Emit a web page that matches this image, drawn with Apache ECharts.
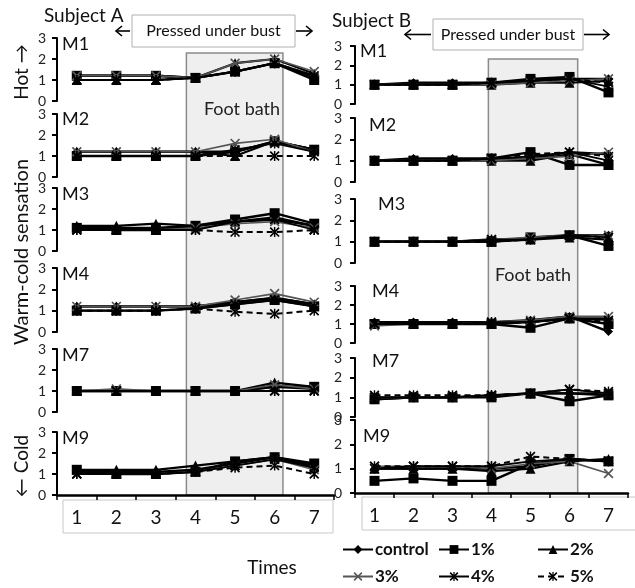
<!DOCTYPE html>
<html><head><meta charset="utf-8">
<script src="https://cdn.jsdelivr.net/npm/echarts@6/dist/echarts.min.js"></script>
<style>html,body{margin:0;padding:0;background:#fff}#c{width:635px;height:588px}</style>
</head><body><div id="c"></div>
<script>
// ---------- data ----------
const times = ['1','2','3','4','5','6','7'];
const seriesNames = ['control','1%','2%','3%','4%','5%'];
const panelNames = ['M1','M2','M3','M4','M7','M9'];
const subjectNames = ['Subject A','Subject B'];

// Subject A (rows: control, 1%, 2%, 3%, 4%, 5%)
const A_M1 = [
  [1.2,1.2,1.2,1.1,1.4,1.8,1.2],
  [1.2,1.2,1.2,1.1,1.4,1.8,1.0],
  [1.0,1.0,1.0,1.1,1.8,2.0,1.3],
  [1.2,1.2,1.2,1.1,1.8,2.0,1.4],
  [1.0,1.0,1.0,1.1,1.4,1.8,1.1],
  [1.0,1.0,1.0,1.1,1.4,1.8,1.2]];
const A_M2 = [
  [1.2,1.2,1.2,1.2,1.2,1.7,1.3],
  [1.0,1.0,1.0,1.0,1.2,1.7,1.3],
  [1.2,1.2,1.2,1.2,1.0,1.7,1.3],
  [1.2,1.2,1.2,1.2,1.6,1.8,1.2],
  [1.0,1.0,1.0,1.0,1.3,1.6,1.2],
  [1.0,1.0,1.0,1.0,1.0,1.0,1.0]];
const A_M3 = [
  [1.1,1.1,1.1,1.2,1.4,1.5,1.2],
  [1.1,1.0,1.0,1.2,1.5,1.8,1.3],
  [1.2,1.2,1.3,1.2,1.4,1.6,1.2],
  [1.0,1.0,1.0,1.1,1.3,1.4,1.1],
  [1.0,1.0,1.0,1.0,1.4,1.5,1.0],
  [1.0,1.0,1.0,1.0,0.9,0.9,1.0]];
const A_M4 = [
  [1.2,1.2,1.2,1.2,1.4,1.6,1.3],
  [1.0,1.0,1.0,1.1,1.3,1.5,1.2],
  [1.2,1.2,1.2,1.2,1.4,1.6,1.3],
  [1.2,1.2,1.2,1.2,1.5,1.8,1.4],
  [1.0,1.0,1.0,1.1,1.3,1.5,1.2],
  [1.0,1.0,1.0,1.1,0.95,0.85,1.0]];
const A_M7 = [
  [1.0,1.0,1.0,1.0,1.0,1.2,1.1],
  [1.0,1.0,1.0,1.0,1.0,1.2,1.2],
  [1.0,1.0,1.0,1.0,1.0,1.4,1.2],
  [1.0,1.1,1.0,1.0,1.0,1.3,1.1],
  [1.0,1.0,1.0,1.0,1.0,1.0,1.0],
  [1.0,1.0,1.0,1.0,1.0,1.0,1.0]];
const A_M9 = [
  [1.1,1.1,1.1,1.2,1.5,1.8,1.3],
  [1.2,1.0,1.0,1.1,1.6,1.8,1.5],
  [1.2,1.2,1.2,1.4,1.6,1.8,1.4],
  [1.0,1.0,1.0,1.1,1.4,1.7,1.2],
  [1.0,1.0,1.0,1.1,1.4,1.7,1.3],
  [1.0,1.0,1.0,1.1,1.3,1.4,1.0]];

// Subject B
const B_M1 = [
  [1.0,1.1,1.1,1.1,1.2,1.3,1.3],
  [1.0,1.0,1.0,1.1,1.3,1.4,0.6],
  [1.0,1.0,1.0,1.0,1.1,1.1,1.2],
  [1.0,1.0,1.0,1.0,1.1,1.2,1.3],
  [1.0,1.0,1.0,1.1,1.2,1.3,0.9],
  [1.0,1.0,1.0,1.1,1.2,1.3,1.1]];
const B_M2 = [
  [1.0,1.1,1.1,1.1,1.1,1.4,1.3],
  [1.0,1.0,1.0,1.1,1.4,0.8,0.8],
  [1.0,1.0,1.0,1.0,1.0,1.3,0.8],
  [1.0,1.0,1.0,1.0,1.1,1.2,1.4],
  [1.0,1.0,1.0,1.1,1.2,1.4,1.0],
  [1.0,1.0,1.0,1.1,1.3,1.4,1.2]];
const B_M3 = [
  [1.0,1.0,1.0,1.1,1.1,1.3,1.3],
  [1.0,1.0,1.0,1.0,1.2,1.3,0.8],
  [1.0,1.0,1.0,1.0,1.1,1.2,1.1],
  [1.0,1.0,1.0,1.1,1.2,1.3,1.3],
  [1.0,1.0,1.0,1.1,1.1,1.3,1.2],
  [1.0,1.0,1.0,1.0,1.1,1.3,1.2]];
const B_M4 = [
  [1.1,1.1,1.1,1.1,1.2,1.4,0.6],
  [1.0,1.0,1.0,1.0,0.8,1.3,1.0],
  [1.0,1.0,1.0,1.0,1.1,1.3,1.3],
  [0.9,1.0,1.0,1.1,1.2,1.4,1.4],
  [1.0,1.0,1.0,1.1,1.1,1.3,1.2],
  [1.0,1.0,1.0,1.0,1.1,1.3,1.1]];
const B_M7 = [
  [0.9,1.0,1.0,1.1,1.2,1.2,1.1],
  [0.9,1.0,1.0,1.0,1.2,0.8,1.1],
  [1.0,1.0,1.0,1.1,1.2,1.2,1.2],
  [1.0,1.0,1.0,1.1,1.2,1.4,1.2],
  [1.0,1.0,1.0,1.1,1.2,1.4,1.2],
  [1.1,1.1,1.1,1.1,1.2,1.4,1.3]];
const B_M9 = [
  [1.0,1.0,1.0,1.0,1.1,1.4,1.3],
  [0.5,0.6,0.5,0.5,1.2,1.4,1.3],
  [1.0,1.0,1.0,0.9,1.0,1.3,1.4],
  [1.1,1.1,1.1,1.0,1.2,1.3,0.8],
  [1.0,1.1,1.1,1.1,1.3,1.4,1.3],
  [1.1,1.1,1.1,1.1,1.5,1.4,1.3]];

const subjectPanels = [[A_M1,A_M2,A_M3,A_M4,A_M7,A_M9],[B_M1,B_M2,B_M3,B_M4,B_M7,B_M9]];
const footBathStart = 4, footBathEnd = 6;

// ---------- styling / layout ----------
const FONT = 'Lato, "Open Sans", sans-serif';
const X_SYM = 'path://M0,1.2L1.2,0L10,8.8L8.8,10Z M8.8,0L10,1.2L1.2,10L0,8.8Z';
const STAR_SYM = 'path://M0,1.2L1.2,0L10,8.8L8.8,10Z M8.8,0L10,1.2L1.2,10L0,8.8Z M4.3,0H5.7V10H4.3Z';
const styles = [
  {symbol:'diamond', size:9, color:'#000', width:2.4, type:'solid'},
  {symbol:'rect', size:10, color:'#000', width:2.4, type:'solid'},
  {symbol:'triangle', size:10, color:'#000', width:2.2, type:'solid'},
  {symbol:X_SYM, size:10, color:'#555', width:1.6, type:'solid'},
  {symbol:STAR_SYM, size:10, color:'#000', width:1.8, type:'solid'},
  {symbol:STAR_SYM, size:10, color:'#000', width:2, type:[6,4]}
];
const layouts = [
  {left:57, width:277, tops:[38,114,188,268,349,432], bottoms:[101,177,251,332,412,495], labelMargin:11,
   mLabels:[[62,35],[62,110],[62,185],[62,265],[62,346],[62,429]]},
  {left:355, width:273, tops:[46,118,199,286,358,420], bottoms:[104,182,263,343,417,493], labelMargin:13,
   mLabels:[[360,42],[369,116],[378,195],[372,282],[372,352],[363,427]]}
];

const grids=[], xAxes=[], yAxes=[], series=[];
subjectPanels.forEach((panels, si) => {
  const L = layouts[si];
  panels.forEach((panel, pi) => {
    const gi = grids.length;
    const isBottom = pi === panels.length - 1;
    grids.push({left:L.left, width:L.width, top:L.tops[pi], height:L.bottoms[pi]-L.tops[pi]});
    xAxes.push({gridIndex:gi, type:'category', data:times, boundaryGap:true, show:isBottom,
      axisLine:{show:true, lineStyle:{color:'#000', width:2.5}},
      axisTick:{show:true, length:5, lineStyle:{color:'#000', width:1.5}},
      axisLabel:{fontSize:19, color:'#111', margin:13, fontFamily:FONT},
      splitLine:{show:false}});
    yAxes.push({gridIndex:gi, type:'value', min:0, max:3, interval:1,
      axisLine:{show:true, lineStyle:{color:'#000', width:2}},
      axisTick:{show:true, length:5, lineStyle:{color:'#000', width:2}},
      axisLabel:{fontSize:14, color:'#222', margin:L.labelMargin, fontFamily:FONT},
      splitLine:{show:false}});
    panel.forEach((vals, k) => {
      const st = styles[k];
      series.push({type:'line', name:seriesNames[k], xAxisIndex:gi, yAxisIndex:gi, data:vals,
        symbol:st.symbol, symbolSize:st.size, showSymbol:true, z:2+k*0.01,
        itemStyle:{color:st.color},
        lineStyle:{color:st.color, width:st.width, type:st.type},
        emphasis:{disabled:true}, animation:false});
    });
  });
});

const legendX = [342, 438, 537];
const legends = seriesNames.map((n, i) => ({
  data:[n], left:legendX[i%3], top: i < 3 ? 541 : 568, padding:0,
  itemWidth:30, itemHeight:11, itemGap:0,
  textStyle:{fontSize:17, fontWeight:'bold', color:'#111', fontFamily:FONT, padding:[0,0,0,-3]}
}));

const chart = echarts.init(document.getElementById('c'));
chart.setOption({
  animation:false, backgroundColor:'#fff',
  grid:grids, xAxis:xAxes, yAxis:yAxes, series:series, legend:legends
});

// ---------- decorations (positions derived from axes where they refer to data) ----------
const g = [];
function txt(x, y, text, size, opts) {
  g.push(Object.assign({type:'text', x:x, y:y, z:10,
    style:Object.assign({text:text, fontSize:size, fontFamily:FONT, fill:'#111'}, (opts && opts.style) || {})},
    opts && opts.el || {}));
}
function arrow(x1, x2, y) {
  const d = x2 > x1 ? 1 : -1;
  g.push({type:'line', z:10, shape:{x1:x1, y1:y, x2:x2, y2:y}, style:{stroke:'#000', lineWidth:1.6}});
  g.push({type:'polyline', z:10, shape:{points:[[x2-d*6, y-5],[x2, y],[x2-d*6, y+5]]}, style:{stroke:'#000', lineWidth:1.6, fill:null}});
}

const shadeTops = [53, 59];
const shadeBoxTop = [[132,15,163,32],[433,19,150,31]];
const arrowsDef = [[[130,116],[296,312]],[[431,405],[584,609]]];
const titlePos = [[44,6],[332,11]];
const footPos = [[242,109],[533,275]];
const labelBoxes = [[63,500,270,33],[362,497,280,33]];

subjectPanels.forEach((panels, si) => {
  const last = si*6 + 5;
  const p4 = chart.convertToPixel({xAxisIndex:last}, footBathStart - 1);
  const p5 = chart.convertToPixel({xAxisIndex:last}, footBathStart);
  const p6 = chart.convertToPixel({xAxisIndex:last}, footBathEnd - 1);
  const step = p5 - p4;
  const yBottom = chart.convertToPixel({yAxisIndex:last}, 0);
  const x0 = p4 - (si === 0 ? 0.23 : 0.08) * step, x1 = p6 + 0.21 * step;
  g.push({type:'rect', z:-1, shape:{x:x0, y:shadeTops[si], width:x1-x0, height:yBottom-shadeTops[si]},
    style:{fill:'#efefef', stroke:'#8a8a8a', lineWidth:1.5}});
  const lb = labelBoxes[si];
  g.push({type:'rect', z:-1, shape:{x:lb[0], y:lb[1], width:lb[2], height:lb[3]}, style:{fill:'#fff', stroke:'#c8c8c8', lineWidth:1}});
  const b = shadeBoxTop[si];
  g.push({type:'rect', z:9, shape:{x:b[0], y:b[1], width:b[2], height:b[3]}, style:{fill:'#fff', stroke:'#b0b0b0', lineWidth:1}});
  txt(b[0]+b[2]/2, b[1]+b[3]/2, 'Pressed under bust', 16, {style:{align:'center', verticalAlign:'middle'}});
  arrowsDef[si].forEach(a => arrow(a[0], a[1], b[1]+b[3]/2));
  txt(titlePos[si][0], titlePos[si][1], subjectNames[si], 19, {});
  txt(footPos[si][0], footPos[si][1], 'Foot bath', 18, {style:{align:'center', verticalAlign:'middle', fill:'#222'}});
  layouts[si].mLabels.forEach((m, pi) => txt(m[0], m[1], panelNames[pi], 18, {}));
});

txt(22, 72, 'Hot \u2192', 19, {style:{align:'center', verticalAlign:'middle'}, el:{rotation:Math.PI/2}});
txt(22, 252, 'Warm-cold sensation', 20, {style:{align:'center', verticalAlign:'middle'}, el:{rotation:Math.PI/2}});
txt(22, 466, '\u2190 Cold', 19, {style:{align:'center', verticalAlign:'middle'}, el:{rotation:Math.PI/2}});
txt(272, 568, 'Times', 19, {style:{align:'center', verticalAlign:'middle'}});

chart.setOption({graphic:{elements:g}});
</script>
</body></html>
